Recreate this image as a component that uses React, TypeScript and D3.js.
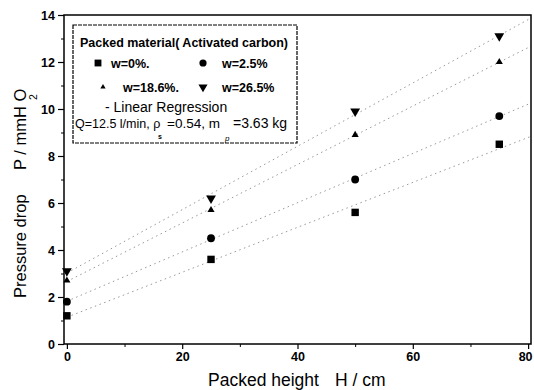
import * as d3 from "d3";
import { useEffect, useRef } from "react";

// packed height H / cm
const heights = [0, 25, 50, 75];
// pressure drop P / mmH2O per moisture content
const w0 = [1.2, 3.6, 5.6, 8.5];
const w25 = [1.8, 4.5, 7.0, 9.7];
const w186 = [2.7, 5.7, 8.9, 12.0];
const w265 = [3.1, 6.2, 9.9, 13.1];

const seriesNames = ["w=0%.", "w=2.5%", "w=18.6%.", "w=26.5%"];
const xTicks = [0, 20, 40, 60, 80];
const xTickLabels = ["0", "20", "40", "60", "80"];
const yTicks = [0, 2, 4, 6, 8, 10, 12, 14];

const W = 534;
const H = 390;
const font = "Arial, 'Liberation Sans', sans-serif";

function linfit(xs, ys) {
  const mx = d3.mean(xs), my = d3.mean(ys);
  let sxy = 0, sxx = 0;
  xs.forEach((x, i) => { sxy += (x - mx) * (ys[i] - my); sxx += (x - mx) * (x - mx); });
  const b = sxy / sxx;
  return { a: my - b * mx, b };
}

const symbols = [d3.symbolSquare, d3.symbolCircle, d3.symbolTriangle, d3.symbolTriangle];
const symSizes = [55, 48, 22, 42];
const symRot = [0, 0, 0, 180];

const App = () => {
  const svgRef = useRef(null);

  useEffect(() => {
    const svg = d3.select(svgRef.current);
    svg.selectAll("*").remove();

    const x = d3.scaleLinear().domain([-0.5, 80.5]).range([64, 531]);
    const y = d3.scaleLinear().domain([0, 14]).range([344, 15]);

    const data = [w0, w25, w186, w265];

    svg.append("defs").append("clipPath").attr("id", "plotclip")
      .append("rect").attr("x", 64).attr("y", 15).attr("width", 467).attr("height", 329);

    // regression lines
    const lines = svg.append("g").attr("clip-path", "url(#plotclip)");
    data.forEach(vals => {
      const f = linfit(heights, vals);
      lines.append("line")
        .attr("x1", x(0)).attr("y1", y(f.a))
        .attr("x2", x(80.5)).attr("y2", y(f.a + f.b * 80.5))
        .attr("stroke", "#999")
        .attr("stroke-width", 1)
        .attr("stroke-dasharray", "1.5,3.5");
    });

    // markers
    data.forEach((vals, si) => {
      svg.append("g").selectAll("path").data(vals).join("path")
        .attr("d", d3.symbol().type(symbols[si]).size(symSizes[si]))
        .attr("transform", (d, i) => `translate(${x(heights[i])},${y(d)}) rotate(${symRot[si]})`)
        .attr("fill", "#000");
    });

    // frame
    svg.append("rect").attr("x", 64).attr("y", 15).attr("width", 467).attr("height", 329)
      .attr("fill", "none").attr("stroke", "#000").attr("stroke-width", 1.5);

    // x axis
    const xAxis = svg.append("g").attr("transform", "translate(0,344)")
      .call(d3.axisBottom(x).tickValues(xTicks).tickSize(5).tickFormat((d, i) => xTickLabels[i]));
    xAxis.select(".domain").remove();
    xAxis.selectAll("line").attr("stroke-width", 1.2);
    xAxis.selectAll("text").attr("font-family", font).attr("font-size", 12.5).attr("font-weight", "bold");
    xAxis.selectAll("text").filter(d => d === 80).attr("dx", "-3");
    const xMinor = svg.append("g").attr("transform", "translate(0,344)")
      .call(d3.axisBottom(x).tickValues([10, 30, 50, 70]).tickSize(3).tickFormat(() => ""));
    xMinor.select(".domain").remove();

    // y axis
    const yAxis = svg.append("g").attr("transform", "translate(64,0)")
      .call(d3.axisLeft(y).tickValues(yTicks).tickSize(6));
    yAxis.select(".domain").remove();
    yAxis.selectAll("line").attr("stroke-width", 1.2);
    yAxis.selectAll("text").attr("font-family", font).attr("font-size", 12.5).attr("font-weight", "bold");
    const yMinor = svg.append("g").attr("transform", "translate(64,0)")
      .call(d3.axisLeft(y).tickValues([1, 3, 5, 7, 9, 11, 13]).tickSize(3).tickFormat(() => ""));
    yMinor.select(".domain").remove();

    // axis titles
    const title = (tx, ty, s, size, rot = 0) => svg.append("text")
      .attr("transform", `translate(${tx},${ty}) rotate(${rot})`)
      .attr("font-family", font).attr("font-size", size).text(s);
    title(208, 386, "Packed height", 17.5);
    title(335, 386, "H / cm", 17.5);
    title(26, 298, "Pressure drop", 16.5, -90);
    title(26, 170, "P / mmH O", 16.5, -90);
    title(37, 100, "2", 10.5, -90);

    // legend
    const lg = svg.append("g");
    lg.append("rect").attr("x", 73).attr("y", 25).attr("width", 224).attr("height", 118)
      .attr("fill", "#fff").attr("stroke", "#000").attr("stroke-width", 1.2).attr("stroke-dasharray", "4,1");
    const lt = (tx, ty, s, size, weight = "normal") => lg.append("text").attr("x", tx).attr("y", ty)
      .attr("font-family", font).attr("font-size", size).attr("font-weight", weight).text(s);
    lt(80, 47, "Packed material( Activated carbon)", 12.5, "bold");
    const legPos = [[98, 63], [203, 63], [103, 87], [203, 87]];
    const legText = [[111, 68], [222, 68], [123, 92], [222, 92]];
    seriesNames.forEach((n, i) => {
      lg.append("path").attr("d", d3.symbol().type(symbols[i]).size(i === 2 ? 12 : symSizes[i] * 0.85))
        .attr("transform", `translate(${legPos[i][0]},${legPos[i][1]}) rotate(${symRot[i]})`)
        .attr("fill", "#000");
      lt(legText[i][0], legText[i][1], n, 12.5, "bold");
    });
    lt(105, 112, "- Linear Regression", 14);
    lt(75, 128, "Q=12.5 l/min, \u03c1", 12.5);
    lt(167, 128, "=0.54, m", 13.5);
    lt(233, 128, "=3.63 kg", 14);
    lt(158, 139, "s", 7, "bold");
    lt(225, 141, "p", 8).attr("font-style", "italic");
  }, []);

  return <svg ref={svgRef} width={W} height={H} style={{ position: "absolute", left: 0, top: 0 }} />;
};

export default App;
